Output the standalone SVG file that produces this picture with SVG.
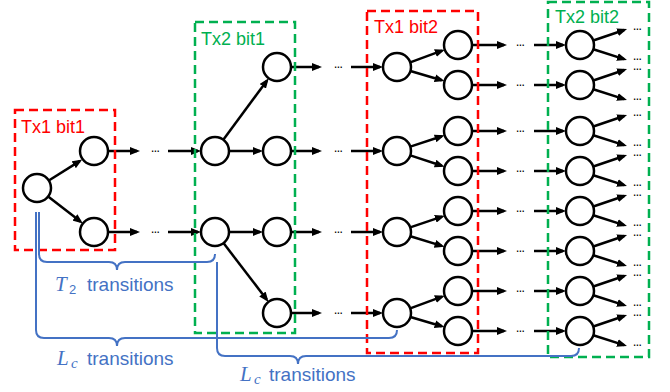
<svg xmlns="http://www.w3.org/2000/svg" width="670" height="392" viewBox="0 0 670 392">
<style>
.node circle{fill:#fff;stroke:#000;stroke-width:2.5}
.arr{stroke:#000;stroke-width:2.5;fill:none;marker-end:url(#ah)}
.brace{stroke:#4472C4;stroke-width:2;fill:none}
.box{fill:none;stroke-width:2.5;stroke-dasharray:9 5}
.red{stroke:#FF0000}
.green{stroke:#00B050}
.lbl{font-family:"Liberation Sans",Arial,sans-serif;font-size:18px}
.dots{font-family:"Liberation Sans",Arial,sans-serif;font-size:8.8px;font-weight:bold;fill:#000}
.btxt{font-family:"Liberation Sans",Arial,sans-serif;font-size:19px;fill:#4472C4}
.math{font-family:"Liberation Serif","Times New Roman",serif;font-style:italic}
</style>
<defs>
<marker id="ah" viewBox="0 0 10 8" refX="7" refY="4" markerWidth="10" markerHeight="8" markerUnits="userSpaceOnUse" orient="auto"><path d="M0,0 L10,4 L0,8 z" fill="#000"/></marker>
</defs>
<rect width="670" height="392" fill="#fff"/>

<g id="connectors">
<line class="arr" x1="48.8" y1="180.5" x2="79.7" y2="161.1"/>
<line class="arr" x1="48.1" y1="196.6" x2="80.5" y2="221.6"/>
<line class="arr" x1="108" y1="151" x2="137" y2="151"/>
<line class="arr" x1="168" y1="151" x2="198" y2="151"/>
<line class="arr" x1="108" y1="232" x2="137" y2="232"/>
<line class="arr" x1="168" y1="232" x2="198" y2="232"/>
<line class="arr" x1="223.3" y1="139.7" x2="266.9" y2="80.7"/>
<line class="arr" x1="229" y1="151" x2="260" y2="151"/>
<line class="arr" x1="229" y1="232" x2="260" y2="232"/>
<line class="arr" x1="223.5" y1="243.1" x2="266.7" y2="299.5"/>
<line class="arr" x1="291" y1="67" x2="319" y2="67"/>
<line class="arr" x1="351" y1="67" x2="380" y2="67"/>
<line class="arr" x1="291" y1="151" x2="319" y2="151"/>
<line class="arr" x1="351" y1="151" x2="380" y2="151"/>
<line class="arr" x1="291" y1="232" x2="319" y2="232"/>
<line class="arr" x1="351" y1="232" x2="380" y2="232"/>
<line class="arr" x1="291" y1="313" x2="319" y2="313"/>
<line class="arr" x1="351" y1="313" x2="380" y2="313"/>
<line class="arr" x1="410.2" y1="62.3" x2="442.0" y2="50.7"/>
<line class="arr" x1="410.4" y1="71.0" x2="441.7" y2="80.2"/>
<line class="arr" x1="410.3" y1="146.6" x2="441.8" y2="136.3"/>
<line class="arr" x1="410.3" y1="155.4" x2="441.8" y2="165.7"/>
<line class="arr" x1="410.2" y1="227.4" x2="442.0" y2="216.6"/>
<line class="arr" x1="410.4" y1="236.2" x2="441.7" y2="245.9"/>
<line class="arr" x1="410.2" y1="308.3" x2="442.0" y2="296.7"/>
<line class="arr" x1="410.4" y1="317.0" x2="441.7" y2="326.2"/>
<line class="arr" x1="472" y1="45" x2="504" y2="45"/>
<line class="arr" x1="534" y1="45" x2="563" y2="45"/>
<line class="arr" x1="472" y1="85" x2="504" y2="85"/>
<line class="arr" x1="534" y1="85" x2="563" y2="85"/>
<line class="arr" x1="472" y1="131" x2="504" y2="131"/>
<line class="arr" x1="534" y1="131" x2="563" y2="131"/>
<line class="arr" x1="472" y1="171" x2="504" y2="171"/>
<line class="arr" x1="534" y1="171" x2="563" y2="171"/>
<line class="arr" x1="472" y1="211" x2="504" y2="211"/>
<line class="arr" x1="534" y1="211" x2="563" y2="211"/>
<line class="arr" x1="472" y1="251" x2="504" y2="251"/>
<line class="arr" x1="534" y1="251" x2="563" y2="251"/>
<line class="arr" x1="472" y1="291" x2="504" y2="291"/>
<line class="arr" x1="534" y1="291" x2="563" y2="291"/>
<line class="arr" x1="472" y1="331" x2="504" y2="331"/>
<line class="arr" x1="534" y1="331" x2="563" y2="331"/>
<line class="arr" x1="593.3" y1="40.5" x2="624.2" y2="30"/>
<line class="arr" x1="593.3" y1="49.3" x2="624.1" y2="59.1"/>
<line class="arr" x1="593.3" y1="80.5" x2="624.2" y2="70"/>
<line class="arr" x1="593.3" y1="89.3" x2="624.1" y2="99.1"/>
<line class="arr" x1="593.3" y1="126.5" x2="624.2" y2="116"/>
<line class="arr" x1="593.3" y1="135.3" x2="624.1" y2="145.1"/>
<line class="arr" x1="593.3" y1="166.5" x2="624.2" y2="156"/>
<line class="arr" x1="593.3" y1="175.3" x2="624.1" y2="185.1"/>
<line class="arr" x1="593.3" y1="206.5" x2="624.2" y2="196"/>
<line class="arr" x1="593.3" y1="215.3" x2="624.1" y2="225.1"/>
<line class="arr" x1="593.3" y1="246.5" x2="624.2" y2="236"/>
<line class="arr" x1="593.3" y1="255.3" x2="624.1" y2="265.1"/>
<line class="arr" x1="593.3" y1="286.5" x2="624.2" y2="276"/>
<line class="arr" x1="593.3" y1="295.3" x2="624.1" y2="305.1"/>
<line class="arr" x1="593.3" y1="326.5" x2="624.2" y2="316"/>
<line class="arr" x1="593.3" y1="335.3" x2="624.1" y2="345.1"/>
</g>

<g id="ellipses" class="dots">
<text x="151" y="152">…</text><text x="151" y="233">…</text>
<text x="334" y="68">…</text><text x="334" y="152">…</text><text x="334" y="233">…</text><text x="334" y="314">…</text>
<text x="516" y="46">…</text><text x="516" y="86">…</text><text x="516" y="132">…</text><text x="516" y="172">…</text>
<text x="516" y="212">…</text><text x="516" y="252">…</text><text x="516" y="292">…</text><text x="516" y="332">…</text>
<text x="633" y="30">…</text><text x="633" y="60">…</text>
<text x="633" y="70">…</text><text x="633" y="100">…</text>
<text x="633" y="116">…</text><text x="633" y="146">…</text>
<text x="633" y="156">…</text><text x="633" y="186">…</text>
<text x="633" y="196">…</text><text x="633" y="226">…</text>
<text x="633" y="236">…</text><text x="633" y="266">…</text>
<text x="633" y="276">…</text><text x="633" y="306">…</text>
<text x="633" y="316">…</text><text x="633" y="346">…</text>
</g>

<g id="nodes">
<g id="nA" class="node"><circle cx="37" cy="188" r="14"/></g>
<g id="nB1" class="node"><circle cx="94" cy="151" r="14"/></g>
<g id="nB2" class="node"><circle cx="94" cy="232" r="14"/></g>
<g id="nC1" class="node"><circle cx="215" cy="151" r="14"/></g>
<g id="nC2" class="node"><circle cx="215" cy="232" r="14"/></g>
<g id="nD1" class="node"><circle cx="277" cy="67" r="14"/></g>
<g id="nD2" class="node"><circle cx="277" cy="151" r="14"/></g>
<g id="nD3" class="node"><circle cx="277" cy="232" r="14"/></g>
<g id="nD4" class="node"><circle cx="277" cy="313" r="14"/></g>
<g id="nE1" class="node"><circle cx="397" cy="67" r="14"/></g>
<g id="nE2" class="node"><circle cx="397" cy="151" r="14"/></g>
<g id="nE3" class="node"><circle cx="397" cy="232" r="14"/></g>
<g id="nE4" class="node"><circle cx="397" cy="313" r="14"/></g>
<g id="nF1" class="node"><circle cx="458" cy="45" r="14"/></g>
<g id="nF2" class="node"><circle cx="458" cy="85" r="14"/></g>
<g id="nF3" class="node"><circle cx="458" cy="131" r="14"/></g>
<g id="nF4" class="node"><circle cx="458" cy="171" r="14"/></g>
<g id="nF5" class="node"><circle cx="458" cy="211" r="14"/></g>
<g id="nF6" class="node"><circle cx="458" cy="251" r="14"/></g>
<g id="nF7" class="node"><circle cx="458" cy="291" r="14"/></g>
<g id="nF8" class="node"><circle cx="458" cy="331" r="14"/></g>
<g id="nG1" class="node"><circle cx="580" cy="45" r="14"/></g>
<g id="nG2" class="node"><circle cx="580" cy="85" r="14"/></g>
<g id="nG3" class="node"><circle cx="580" cy="131" r="14"/></g>
<g id="nG4" class="node"><circle cx="580" cy="171" r="14"/></g>
<g id="nG5" class="node"><circle cx="580" cy="211" r="14"/></g>
<g id="nG6" class="node"><circle cx="580" cy="251" r="14"/></g>
<g id="nG7" class="node"><circle cx="580" cy="291" r="14"/></g>
<g id="nG8" class="node"><circle cx="580" cy="331" r="14"/></g>
</g>

<g id="boxTx1bit1"><rect class="box red" x="15" y="110" width="100" height="140"/><text class="lbl" x="21" y="133" fill="#FF0000">Tx1 bit1</text></g>
<g id="boxTx2bit1"><rect class="box green" x="195" y="22" width="100" height="311"/><text class="lbl" x="201" y="45" fill="#00B050">Tx2 bit1</text></g>
<g id="boxTx1bit2"><rect class="box red" x="367" y="11" width="111" height="342"/><text class="lbl" x="374" y="33" fill="#FF0000">Tx1 bit2</text></g>
<g id="boxTx2bit2"><rect class="box green" x="548" y="2" width="101" height="355"/><text class="lbl" x="555" y="23" fill="#00B050">Tx2 bit2</text></g>

<g id="braces">
<path class="brace" d="M39,212 V254 Q39,262 47,262 H109 Q117,262 117,270 Q117,262 125,262 H207 Q215,262 215,254"/>
<path class="brace" d="M36,212 V330 Q36,338 44,338 H109 Q117,338 117,346 Q117,338 125,338 H389 Q397,338 397,330"/>
<path class="brace" d="M217,262 V348 Q217,356 225,356 H290 Q298,356 298,364 Q298,356 306,356 H571 Q579,356 579,348"/>
<text class="btxt" x="55" y="291"><tspan class="math" font-size="21">T</tspan><tspan font-size="13" x="69" dy="3">2</tspan><tspan x="87" dy="-3">transitions</tspan></text>
<text class="btxt" x="57" y="365"><tspan class="math" font-size="21">L</tspan><tspan class="math" font-size="15" x="71" dy="3">c</tspan><tspan x="87" dy="-3">transitions</tspan></text>
<text class="btxt" x="240" y="381"><tspan class="math" font-size="21">L</tspan><tspan class="math" font-size="15" x="254" dy="3">c</tspan><tspan x="269" dy="-3">transitions</tspan></text>
</g>
</svg>
